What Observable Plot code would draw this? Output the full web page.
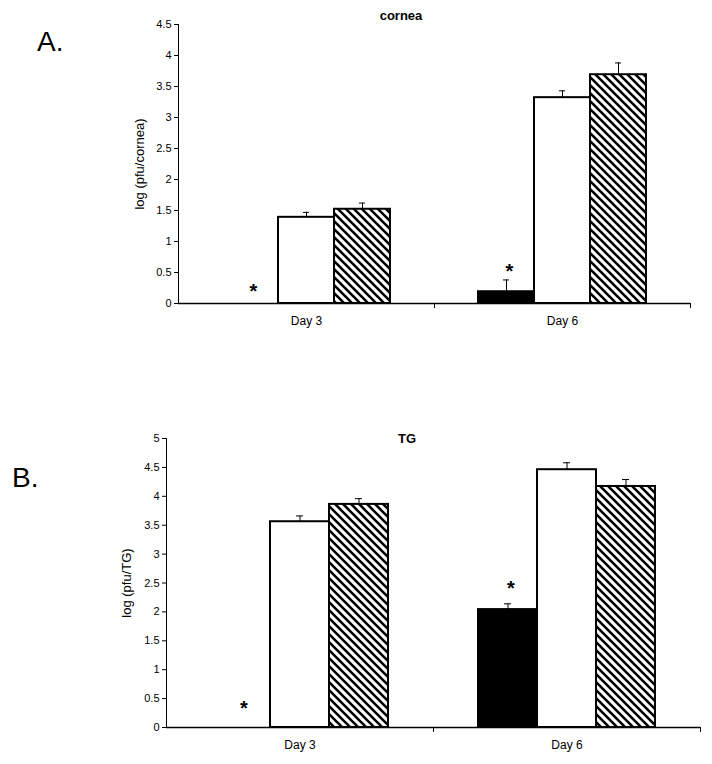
<!DOCTYPE html>
<html>
<head>
<meta charset="utf-8">
<script src="https://cdn.jsdelivr.net/npm/d3@7"></script>
<script src="https://cdn.jsdelivr.net/npm/@observablehq/plot@0.6"></script>
<style>
  body { margin: 0; background: #fff; font-family: "Liberation Sans", Arial, sans-serif; }
  #wrap { position: relative; width: 712px; height: 764px; overflow: hidden; }
  .panel { position: absolute; left: 0; }
  .lbl { position: absolute; line-height: 1; color: #000; white-space: nowrap; }
  .ttl { position: absolute; line-height: 1; color: #000; font-weight: bold; transform: translate(-50%, -50%); white-space: nowrap; }
  svg [aria-label="fx-axis tick label"] { font-size: 12px; }
</style>
</head>
<body>
<svg width="0" height="0" style="position:absolute">
  <defs>
    <pattern id="hatch" patternUnits="userSpaceOnUse" width="8" height="8">
      <rect width="8" height="8" fill="#fff"/>
      <path d="M-2,6 L2,10 M0,0 L8,8 M6,-2 L10,2" stroke="#000" stroke-width="2.6"/>
    </pattern>
  </defs>
</svg>
<div id="wrap">
  <div id="top" class="panel" style="top:0px"></div>
  <div id="bottom" class="panel" style="top:410px"></div>
  <div class="lbl" style="left:37px;top:28px;font-size:28px">A.</div>
  <div class="lbl" style="left:12px;top:464px;font-size:28px">B.</div>
  <div class="ttl" style="left:401px;top:15px;font-size:13px">cornea</div>
  <div class="ttl" style="left:407px;top:438px;font-size:13px">TG</div>
</div>
<script>
// ---- data ----
const days = ["Day 3", "Day 6"];
const groups = ["Group 1", "Group 2", "Group 3"];

const corneaDay3 = [null, 1.39, 1.52];
const corneaDay6 = [0.19, 3.32, 3.69];
const corneaErrDay3 = [null, 0.08, 0.10];
const corneaErrDay6 = [0.19, 0.11, 0.19];
const corneaStars = [0.27, 0.60];           // asterisk heights (Group 1, Day 3 / Day 6)
const corneaTicks = [0, 0.5, 1, 1.5, 2, 2.5, 3, 3.5, 4, 4.5];

const tgDay3 = [null, 3.56, 3.86];
const tgDay6 = [2.04, 4.46, 4.17];
const tgErrDay3 = [null, 0.10, 0.10];
const tgErrDay6 = [0.10, 0.12, 0.12];
const tgStars = [0.42, 2.49];
const tgTicks = [0, 0.5, 1, 1.5, 2, 2.5, 3, 3.5, 4, 4.5, 5];

// ---- styles ----
const groupFills = ["#000", "#fff", "url(#hatch)"];

function rowsOf(d3v, d6v, e3, e6) {
  const out = [];
  [[d3v, e3], [d6v, e6]].forEach(([vals, errs], di) => {
    groups.forEach((g, gi) => {
      out.push({day: days[di], group: g, mean: vals[gi], err: errs[gi]});
    });
  });
  return out;
}

function panel({rows, stars, ticks, yLabel, height, marginLeft, marginRight, marginTop, marginBottom, capInset, labelDx}) {
  const bars = rows.filter(d => d.mean != null);
  const errs = rows.filter(d => d.mean != null && d.err != null);
  const starRows = days.map((day, i) => ({day, group: groups[0], y: stars[i]}));
  return Plot.plot({
    width: 712,
    height,
    marginLeft, marginRight, marginTop, marginBottom,
    style: {fontFamily: "'Liberation Sans', Arial, sans-serif", fontSize: "11px", color: "#000", background: "transparent", overflow: "visible"},
    fx: {domain: days, padding: 0, label: null, axis: "bottom", tickSize: 0, tickPadding: 13},
    x: {domain: groups, paddingInner: 0, paddingOuter: 0.75, axis: null},
    y: {domain: [0, ticks[ticks.length - 1]], ticks, tickFormat: d => String(d), tickSize: 4, tickPadding: 3, label: null, line: true},
    color: {type: "ordinal", domain: groups, range: groupFills},
    marks: [
      Plot.barY(bars, {fx: "day", x: "group", y: "mean", fill: "group", stroke: "#000", strokeWidth: 2}),
      Plot.ruleX(errs, {fx: "day", x: "group", y1: "mean", y2: d => d.mean + d.err, stroke: "#000", strokeWidth: 1}),
      Plot.tickY(errs, {fx: "day", x: "group", y: d => d.mean + d.err, stroke: "#000", strokeWidth: 1, insetLeft: capInset, insetRight: capInset}),
      Plot.text(starRows, {fx: "day", x: "group", y: "y", text: () => "*", fontSize: 20, fontWeight: "bold", dy: 5, dx: 3, fill: "#000"}),
      Plot.ruleY([0], {stroke: "#000", strokeWidth: 1.5}),
      Plot.frame({anchor: "right", insetTop: height - marginTop - marginBottom, insetBottom: -4, stroke: "#000"}),
      Plot.text([{day: days[0], label: yLabel}], {fx: "day", text: "label", frameAnchor: "left", rotate: -90, textAnchor: "middle", dx: labelDx, fontSize: 13, fill: "#000"})
    ]
  });
}

document.getElementById("top").appendChild(panel({
  rows: rowsOf(corneaDay3, corneaDay6, corneaErrDay3, corneaErrDay6),
  stars: corneaStars,
  ticks: corneaTicks,
  yLabel: "log (pfu/cornea)",
  height: 340, marginLeft: 177, marginRight: 22, marginTop: 24, marginBottom: 37,
  capInset: 25, labelDx: -39
}));

document.getElementById("bottom").appendChild(panel({
  rows: rowsOf(tgDay3, tgDay6, tgErrDay3, tgErrDay6),
  stars: tgStars,
  ticks: tgTicks,
  yLabel: "log (pfu/TG)",
  height: 354, marginLeft: 165, marginRight: 12, marginTop: 28, marginBottom: 37,
  capInset: 26, labelDx: -40
}));
</script>
</body>
</html>
